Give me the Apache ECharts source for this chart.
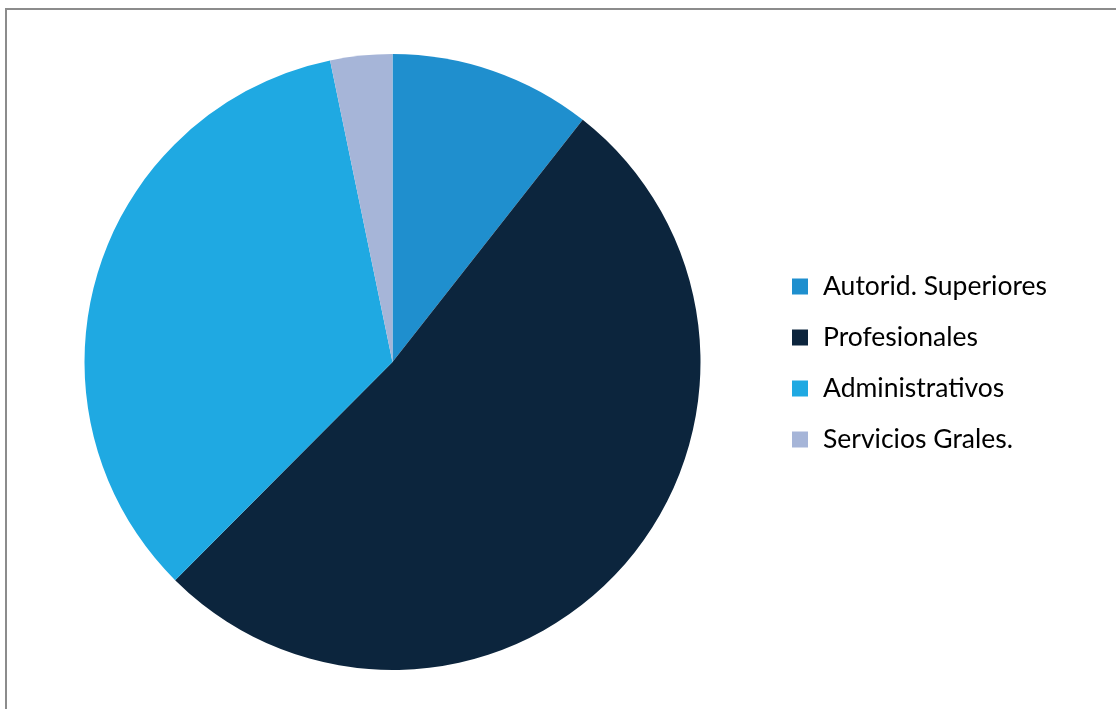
<!DOCTYPE html>
<html><head><meta charset="utf-8">
<script src="https://cdn.jsdelivr.net/npm/echarts@6/dist/echarts.min.js"></script>
<style>html,body{margin:0;padding:0;background:#fff}#c{width:1116px;height:709px}</style>
</head><body><div id="c"></div>
<script>
const categories = ['Autorid. Superiores', 'Profesionales', 'Administrativos', 'Servicios Grales.'];
const values = [10.6, 51.9, 34.3, 3.25];
const colors = ['#1f8fce', '#0c253d', '#1fa9e2', '#a6b5d8'];

const chart = echarts.init(document.getElementById('c'));
chart.setOption({
  animation: false,
  color: colors,
  graphic: [
    { type: 'line', shape: { x1: 6, y1: 9, x2: 1116, y2: 9 }, style: { stroke: '#8c8c8c', lineWidth: 2 } },
    { type: 'line', shape: { x1: 6, y1: 8, x2: 6, y2: 709 }, style: { stroke: '#8c8c8c', lineWidth: 2 } }
  ],
  legend: {
    orient: 'vertical',
    left: 787,
    top: 268,
    icon: 'rect',
    itemWidth: 16,
    itemHeight: 16,
    itemGap: 24,
    textStyle: { fontFamily: 'Lato', fontSize: 26.5, lineHeight: 26.5, color: '#000', padding: [0, 0, 0, 10] },
    data: categories
  },
  series: [{
    type: 'pie',
    center: [392.5, 362],
    radius: 308,
    startAngle: 90,
    clockwise: true,
    label: { show: false },
    labelLine: { show: false },
    emphasis: { disabled: true },
    itemStyle: { borderWidth: 0 },
    data: categories.map((n, i) => ({ name: n, value: values[i] }))
  }]
});
</script></body></html>
